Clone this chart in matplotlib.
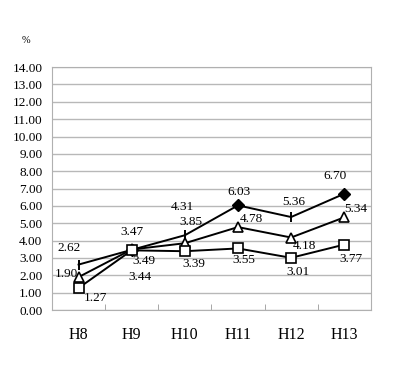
import matplotlib
matplotlib.use('agg')
import matplotlib.pyplot as plt
import numpy as np

years = ['H8', 'H9', 'H10', 'H11', 'H12', 'H13']
series_a = [2.62, 3.47, 4.31, 6.03, 5.36, 6.70]   # diamond / tick markers
series_b = [1.90, 3.49, 3.85, 4.78, 4.18, 5.34]   # triangles
series_c = [1.27, 3.44, 3.39, 3.55, 3.01, 3.77]   # squares
markers_a = ['|', 'D', '|', 'D', '|', 'D']

# label offsets in points (dx, dy)
offs_a = [(-6.5, 12), (0, 13), (-2, 20), (1, 9.5), (2, 11), (-7, 13)]
offs_b = [(-9, 2), (9, -8), (4, 15), (10, 6), (9.5, -6), (8, 6)]
offs_c = [(12, -7), (6, -19), (6.5, -9.5), (4, -8.5), (5, -10), (4.5, -10.5)]

plt.rcParams['font.family'] = ['Liberation Serif', 'DejaVu Serif']

fig = plt.figure(figsize=(3.97, 3.90), dpi=100)
ax = fig.add_axes([0.131, 0.205, 0.803, 0.623])

x = np.arange(len(years))
lw = 1.4
ax.plot(x, series_a, color='black', lw=lw, zorder=3)
for xi, yi, m in zip(x, series_a, markers_a):
    if m == 'D':
        ax.plot(xi, yi, marker='D', ms=6, color='black', zorder=4)
    else:
        ax.plot(xi, yi, marker='|', ms=7, mew=1.4, color='black', zorder=4)
ax.plot(x, series_b, color='black', lw=lw, marker='^', ms=7.5,
        mfc='white', mec='black', mew=1.2, zorder=5)
ax.plot(x, series_c, color='black', lw=lw, marker='s', ms=7,
        mfc='white', mec='black', mew=1.2, zorder=6)

for vals, offs in ((series_a, offs_a), (series_b, offs_b), (series_c, offs_c)):
    for xi, yi, (dx, dy) in zip(x, vals, offs):
        ax.annotate('%.2f' % yi, (xi, yi), xytext=(dx, dy),
                    textcoords='offset points', ha='center', va='center',
                    fontsize=9.5, zorder=7)

ax.set_xlim(-0.5, 5.5)
ax.set_ylim(0, 14)
ax.set_yticks(np.arange(0, 15, 1))
ax.set_yticklabels(['%.2f' % v for v in np.arange(0, 15, 1)], fontsize=9.5)
ax.set_xticks(x)
ax.set_xticklabels(years, fontsize=11.5)
ax.set_xticks(np.arange(0.5, 5, 1), minor=True)
ax.tick_params(axis='x', which='major', length=0, pad=12)
ax.tick_params(axis='x', which='minor', direction='in', length=4, color='#999999')
ax.tick_params(axis='y', length=0, pad=7)
ax.grid(axis='y', color='#b8b8b8', lw=1)
ax.set_axisbelow(True)
for s in ax.spines.values():
    s.set_color('#b0b0b0')

fig.text(0.055, 0.89, '%', fontsize=7.5)

fig.savefig('out.png', dpi=100)
